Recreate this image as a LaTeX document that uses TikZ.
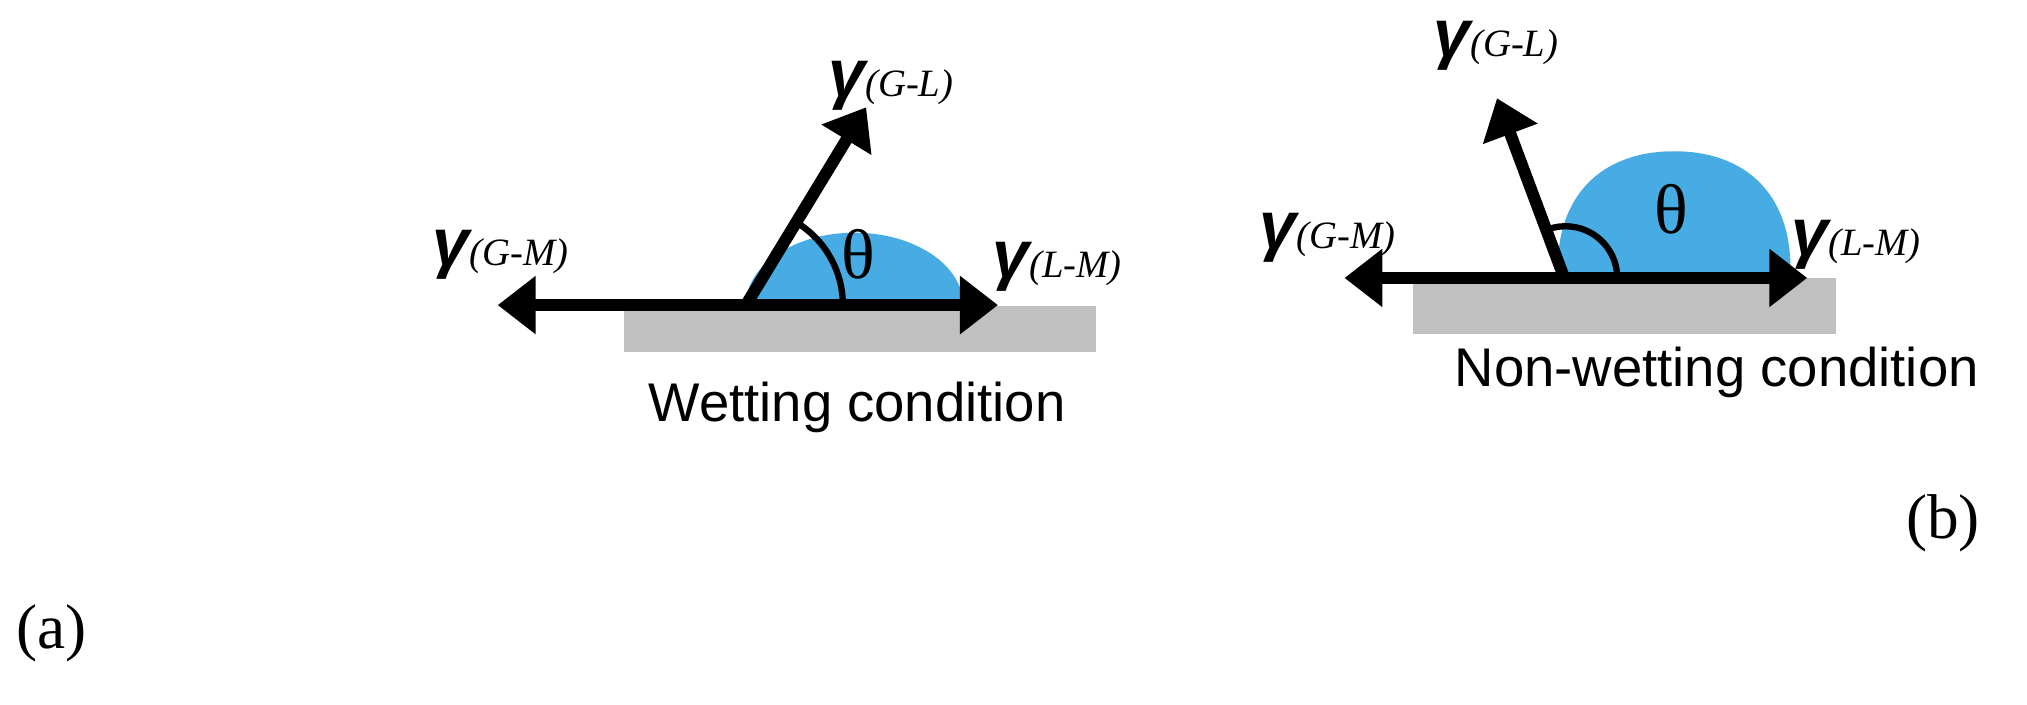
\documentclass[tikz,border=0pt]{standalone}
\usepackage{fontspec}
\setmainfont{Liberation Sans}
\newfontfamily\serifgr{Liberation Serif}
\usetikzlibrary{arrows.meta}
\definecolor{drop}{HTML}{48ACE4}
\definecolor{subst}{HTML}{C0C0C0}
\begin{document}
\begin{tikzpicture}[x=0.01293cm,y=-0.01293cm,
  force/.style={line width=3.4pt,-{Triangle[length=0.38cm,width=0.56cm]}},
  gam/.style={inner sep=0pt,anchor=base west},
  cond/.style={font=\fontsize{15.5}{18}\selectfont},
  panel/.style={font=\fontsize{18}{20}\rmfamily\serifgr\selectfont}]
\newcommand{\gm}[1]{{\fontsize{19}{20}\selectfont\bfseries\itshape γ}{\serifgr\itshape\fontsize{11}{12}\selectfont(#1)}}
\useasboundingbox (0,0) rectangle (1568,545);
% ---- (a) wetting ----
\fill[subst] (483,237) rectangle (848,272);
\fill[drop] (577,236) arc[start angle=180,end angle=360,x radius=84,y radius=56] -- cycle;
\coordinate (oa) at (577,236);
\coordinate (la) at (385,236);
\coordinate (ra) at (772,236);
\coordinate (ua) at (670,83);
\draw[force] (oa) -- (la);
\draw[force] (oa) -- (ra);
\draw[force] (oa) -- (ua);
\draw[line width=1.8pt] (652,236) arc[start angle=0,end angle=-58.7,radius=75];
\node[font=\fontsize{20}{20}\serifgr\selectfont] (tha) at (664,197) {θ};
\node[gam] (gma) at (334,205) {\gm{G-M}};
\node[gam] (lma) at (767,215) {\gm{L-M}};
\node[gam] (gla) at (640,75) {\gm{G-L}};
\node[cond] (wa) at (663,315) {Wetting condition};
\node[panel] (pa) at (40,490) {(a)};
% ---- (b) non-wetting ----
\fill[subst] (1093,215) rectangle (1420,258);
\fill[drop] (1205,213) .. controls (1203,150) and (1240,117) .. (1295,117) .. controls (1350,117) and (1387,150) .. (1385,213) -- cycle;
\coordinate (ob) at (1210,215);
\coordinate (lb) at (1040,215);
\coordinate (rb) at (1398,215);
\coordinate (ub) at (1158,76);
\draw[force] (ob) -- (lb);
\draw[force] (ob) -- (rb);
\draw[force] (ob) -- (ub);
\draw[line width=1.8pt] (1251,215) arc[start angle=0,end angle=-110,radius=40];
\node[font=\fontsize{20}{20}\serifgr\selectfont] (thb) at (1293,162) {θ};
\node[gam] (gmb) at (974,192) {\gm{G-M}};
\node[gam] (lmb) at (1385,198) {\gm{L-M}};
\node[gam] (glb) at (1108,44) {\gm{G-L}};
\node[cond] (wb) at (1328,288) {Non-wetting condition};
\node[panel] (pb) at (1503,405) {(b)};
\end{tikzpicture}
\end{document}
